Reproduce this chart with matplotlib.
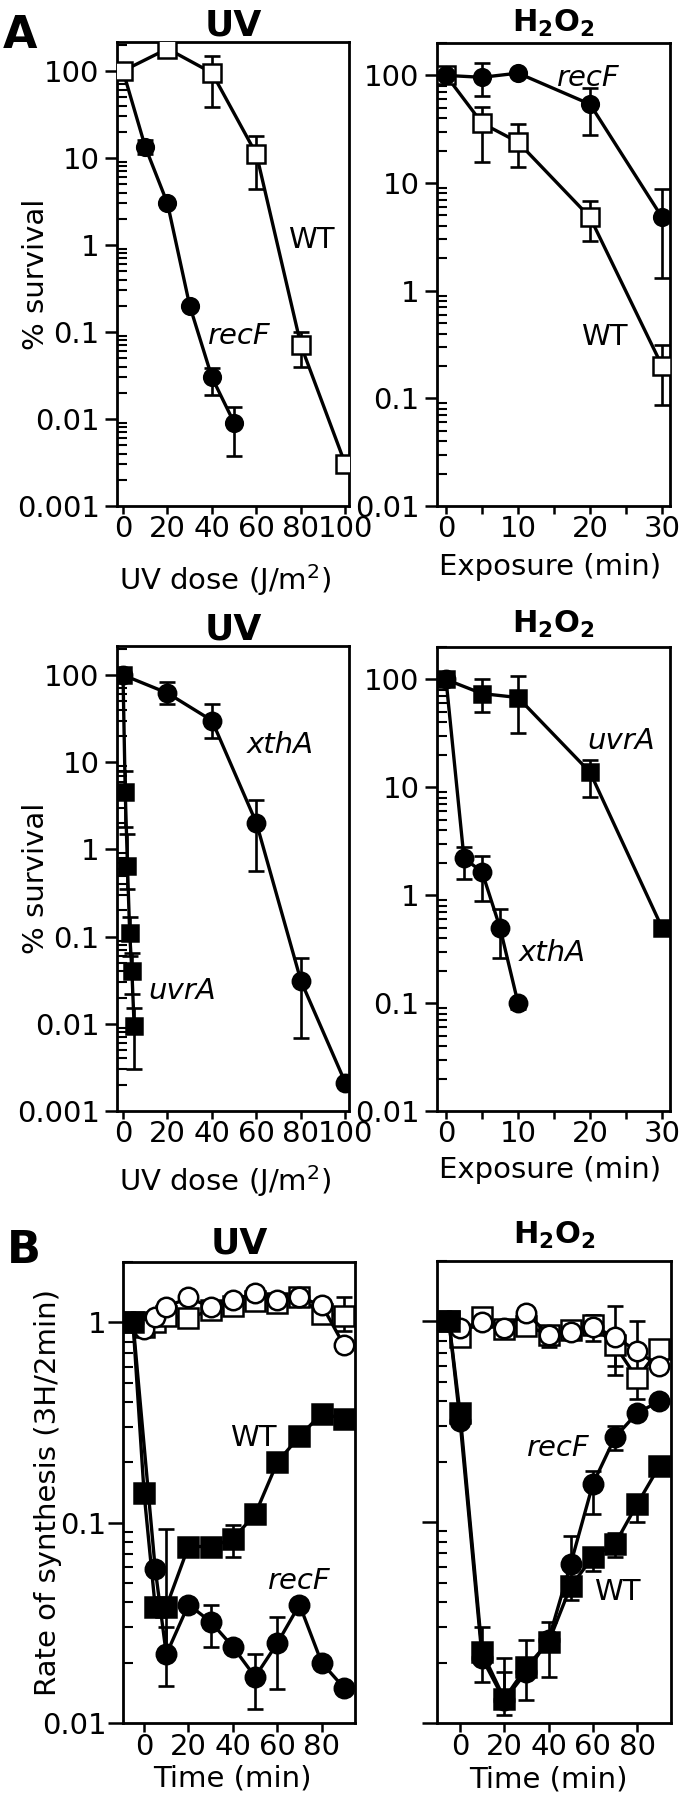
import numpy as np
import matplotlib
matplotlib.use('Agg')
import matplotlib.pyplot as plt
from matplotlib.ticker import LogLocator, NullFormatter

plt.rcParams['font.family'] = ['DejaVu Sans']
plt.rcParams['mathtext.fontset'] = 'dejavusans'

nan = np.nan

# ---- Panel A, UV survival (WT vs recF) ----
uv_dose_wt = [0, 20, 40, 60, 80, 100]
uv_wt = [100, 180, 95, 11, 0.07, 0.003]
uv_wt_lo = [nan, nan, 38, 4.4, 0.04, 0.0025]
uv_wt_hi = [nan, nan, 150, 18, 0.1, nan]

uv_dose_recf = [0, 10, 20, 30, 40, 50]
uv_recf = [100, 13.4, 3.0, 0.2, 0.03, 0.009]
uv_recf_lo = [nan, 11, nan, nan, 0.019, 0.0038]
uv_recf_hi = [nan, 16, nan, nan, 0.039, 0.0137]

# ---- Panel A, H2O2 survival (WT vs recF) ----
h2o2_time = [0, 5, 10, 20, 30]
h2o2_wt = [100, 36, 24, 4.8, 0.2]
h2o2_wt_lo = [nan, 15.8, 14, 2.9, 0.086]
h2o2_wt_hi = [nan, 51, 35, 6.8, 0.31]
h2o2_recf = [100, 96, 105, 54, 4.8]
h2o2_recf_lo = [nan, 64, nan, 28, 1.3]
h2o2_recf_hi = [nan, 131, nan, 77, 8.8]

# ---- Panel A, UV survival (xthA vs uvrA) ----
uv_dose_xtha = [0, 20, 40, 60, 80, 100]
uv_xtha = [100, 62, 30, 2.0, 0.031, 0.0021]
uv_xtha_lo = [nan, 47, 19, 0.57, 0.0069, nan]
uv_xtha_hi = [nan, 83, 46, 3.7, 0.057, nan]

uv_dose_uvra = [0, 1, 2, 3, 4, 5]
uv_uvra = [100, 4.6, 0.65, 0.11, 0.04, 0.0095]
uv_uvra_lo = [nan, 1.8, 0.35, 0.06, 0.022, 0.003]
uv_uvra_hi = [nan, 8, 1.5, 0.17, 0.065, 0.015]

# ---- Panel A, H2O2 survival (uvrA vs xthA) ----
h2o2_time_uvra = [0, 5, 10, 20, 30]
h2o2_uvra = [100, 74, 68, 13.8, 0.5]
h2o2_uvra_lo = [nan, 50, 32, 8.2, nan]
h2o2_uvra_hi = [nan, 100, 107, 17.8, nan]

h2o2_time_xtha = [0, 2.5, 5, 7.5, 10]
h2o2_xtha = [100, 2.2, 1.65, 0.5, 0.1]
h2o2_xtha_lo = [nan, 1.4, 0.88, 0.26, 0.088]
h2o2_xtha_hi = [nan, 2.8, 2.3, 0.75, nan]

# ---- Panel B, UV synthesis rate ----
b_uv_time = [-5, 0, 5, 10, 20, 30, 40, 50, 60, 70, 80, 90]
b_uv_wt = [1.0, 0.14, 0.038, 0.038, 0.076, 0.076, 0.083, 0.11, 0.2, 0.27, 0.35, 0.33]
b_uv_wt_lo = [nan, nan, nan, 0.022, nan, nan, 0.067, nan, nan, nan, nan, nan]
b_uv_wt_hi = [nan, nan, nan, 0.093, nan, nan, 0.097, nan, nan, nan, nan, nan]

b_uv_time_recf = [-5, 5, 10, 20, 30, 40, 50, 60, 70, 80, 90]
b_uv_recf = [1.0, 0.059, 0.022, 0.039, 0.032, 0.024, 0.017, 0.025, 0.039, 0.020, 0.015]
b_uv_recf_lo = [nan, nan, 0.0153, nan, 0.024, nan, 0.0117, 0.0147, nan, nan, nan]
b_uv_recf_hi = [nan, nan, 0.03, nan, 0.039, nan, 0.022, 0.034, nan, nan, nan]

b_uv_wt_ctrl = [1.0, 0.95, 1.0, 1.08, 1.05, 1.15, 1.2, 1.28, 1.25, 1.33, 1.1, 1.08]
b_uv_wt_ctrl_lo = [nan] * 11 + [0.9]
b_uv_wt_ctrl_hi = [nan] * 11 + [1.33]
b_uv_recf_ctrl = [1.0, 0.93, 1.06, 1.19, 1.33, 1.19, 1.29, 1.40, 1.29, 1.33, 1.22, 0.77]

# ---- Panel B, H2O2 synthesis rate ----
b_h2o2_time = [-5, 0, 10, 20, 30, 40, 50, 60, 70, 80, 90]
b_h2o2_wt = [1.0, 0.35, 0.0225, 0.0132, 0.019, 0.0253, 0.048, 0.067, 0.078, 0.123, 0.19]
b_h2o2_wt_lo = [nan, nan, 0.016, 0.011, 0.013, 0.017, nan, 0.057, 0.067, 0.1, nan]
b_h2o2_wt_hi = [nan, nan, 0.03, 0.018, 0.026, 0.032, nan, nan, 0.088, nan, nan]
b_h2o2_recf = [1.0, 0.32, 0.021, 0.013, 0.018, 0.026, 0.062, 0.155, 0.265, 0.35, 0.40]
b_h2o2_recf_lo = [nan, nan, nan, 0.0128, nan, nan, 0.041, 0.11, 0.23, nan, nan]
b_h2o2_recf_hi = [nan, nan, nan, 0.021, nan, nan, 0.085, 0.18, 0.30, nan, nan]

b_h2o2_wt_ctrl = [1.0, 0.84, 1.05, 0.92, 0.95, 0.86, 0.91, 0.96, 0.76, 0.52, 0.73]
b_h2o2_wt_ctrl_lo = [nan, nan, nan, nan, nan, nan, nan, 0.8, 0.6, 0.41, nan]
b_h2o2_wt_ctrl_hi = [nan, nan, nan, nan, nan, nan, nan, 1.08, 1.19, 1.0, nan]
b_h2o2_recf_ctrl = [1.0, 0.93, 0.99, 0.93, 1.1, 0.86, 0.89, 0.94, 0.84, 0.71, 0.6]
b_h2o2_recf_ctrl_lo = [nan, nan, nan, nan, nan, 0.75, nan, nan, 0.54, nan, nan]
b_h2o2_recf_ctrl_hi = [nan] * 11

survival_ticks_uv = [0.001, 0.01, 0.1, 1, 10, 100]
survival_labels_uv = ['0.001', '0.01', '0.1', '1', '10', '100']
survival_ticks_h2o2 = [0.01, 0.1, 1, 10, 100]
survival_labels_h2o2 = ['0.01', '0.1', '1', '10', '100']
rate_ticks = [0.01, 0.1, 1]
rate_labels = ['0.01', '0.1', '1']

FS = 21


def series(ax, x, y, lo=None, hi=None, marker='o', filled=True, ms=12, cap=5.5):
    x = np.asarray(x, float)
    y = np.asarray(y, float)
    if lo is not None:
        lo = np.asarray(lo, float)
        hi = np.asarray(hi, float)
        m = ~(np.isnan(lo) & np.isnan(hi))
        lo_f = np.where(np.isnan(lo), y, lo)
        hi_f = np.where(np.isnan(hi), y, hi)
        if m.any():
            ax.errorbar(x[m], y[m], yerr=[y[m] - lo_f[m], hi_f[m] - y[m]],
                        fmt='none', ecolor='black', elinewidth=1.9,
                        capsize=cap, capthick=1.9, zorder=2)
    ax.plot(x, y, '-', color='black', lw=2.4, marker=marker, ms=ms,
            mfc='black' if filled else 'white', mec='black', mew=1.8,
            zorder=3)


def style(ax, xlim, ylim, xticks, yticks, ylabels, ylen=9, ypad=3.5,
          xlen=6, xpad=0.5):
    ax.set_yscale('log')
    ax.set_xlim(*xlim)
    ax.set_ylim(*ylim)
    ax.set_xticks(xticks)
    ax.set_yticks(yticks)
    ax.set_yticklabels(ylabels)
    ax.yaxis.set_minor_locator(LogLocator(base=10, subs=np.arange(2, 10)))
    ax.yaxis.set_minor_formatter(NullFormatter())
    for s in ax.spines.values():
        s.set_linewidth(2.0)
    ax.tick_params(axis='y', which='major', direction='out', length=ylen,
                   width=1.8, labelsize=FS, pad=ypad)
    ax.tick_params(axis='y', which='minor', direction='in', length=7.5,
                   width=1.5)
    ax.tick_params(axis='x', which='both', direction='out', length=xlen,
                   width=1.8, labelsize=FS, pad=xpad)


fig = plt.figure(figsize=(6.88, 18.04), dpi=100)
W, H = 688.0, 1804.0


def add_axes(left, top, right, bottom):
    return fig.add_axes([left / W, 1 - bottom / H, (right - left) / W,
                         (bottom - top) / H])


h2o2_title = r'H$_\mathbf{2}$O$_\mathbf{2}$'

# A, top left
ax = add_axes(117, 42, 349, 506)
series(ax, uv_dose_recf, uv_recf, uv_recf_lo, uv_recf_hi, 'o', True, 12)
series(ax, uv_dose_wt, uv_wt, uv_wt_lo, uv_wt_hi, 's', False, 12.5)
style(ax, (-2.7, 101.6), (0.001, 215), [0, 20, 40, 60, 80, 100],
      survival_ticks_uv, survival_labels_uv)
ax.set_title('UV', fontsize=26, fontweight='bold', pad=3)
ax.set_ylabel('% survival', fontsize=FS)
ax.yaxis.set_label_coords(-0.29, 0.5)
ax.set_xlabel('UV dose (J/m$^2$)', fontsize=FS)
ax.xaxis.set_label_coords(0.466, -0.12)
ax.text(74, 1.13, 'WT', fontsize=FS, va='center', ha='left')
ax.text(38, 0.09, 'recF', fontsize=FS, style='italic', va='center', ha='left')

# A, top right
ax = add_axes(437, 43, 670, 506)
series(ax, h2o2_time, h2o2_wt, h2o2_wt_lo, h2o2_wt_hi, 's', False, 12.5)
series(ax, h2o2_time, h2o2_recf, h2o2_recf_lo, h2o2_recf_hi, 'o', True, 12)
style(ax, (-1.25, 31.1), (0.01, 200), [0, 10, 20, 30],
      survival_ticks_h2o2, survival_labels_h2o2)
ax.set_xticks([5, 15, 25], minor=True)
ax.set_title(h2o2_title, fontsize=22, fontweight='bold', pad=8)
ax.set_xlabel('Exposure (min)', fontsize=FS)
ax.xaxis.set_label_coords(0.485, -0.102)
ax.text(15.4, 95, 'recF', fontsize=FS, style='italic', va='center', ha='left')
ax.text(18.8, 0.375, 'WT', fontsize=FS, va='center', ha='left')

# A, bottom left
ax = add_axes(117, 646, 349, 1111)
series(ax, uv_dose_xtha, uv_xtha, uv_xtha_lo, uv_xtha_hi, 'o', True, 12.5)
series(ax, uv_dose_uvra, uv_uvra, uv_uvra_lo, uv_uvra_hi, 's', True, 12)
style(ax, (-2.7, 101.6), (0.001, 215), [0, 20, 40, 60, 80, 100],
      survival_ticks_uv, survival_labels_uv)
ax.set_title('UV', fontsize=26, fontweight='bold', pad=4)
ax.set_ylabel('% survival', fontsize=FS)
ax.yaxis.set_label_coords(-0.29, 0.5)
ax.set_xlabel('UV dose (J/m$^2$)', fontsize=FS)
ax.xaxis.set_label_coords(0.466, -0.113)
ax.text(55.7, 15.7, 'xthA', fontsize=FS, style='italic', va='center', ha='left')
ax.text(11.2, 0.024, 'uvrA', fontsize=FS, style='italic', va='center', ha='left')

# A, bottom right
ax = add_axes(437, 647, 670, 1111)
series(ax, h2o2_time_xtha, h2o2_xtha, h2o2_xtha_lo, h2o2_xtha_hi, 'o', True, 12.5)
series(ax, h2o2_time_uvra, h2o2_uvra, h2o2_uvra_lo, h2o2_uvra_hi, 's', True, 12)
style(ax, (-1.25, 31.1), (0.01, 200), [0, 10, 20, 30],
      survival_ticks_h2o2, survival_labels_h2o2)
ax.set_xticks([5, 15, 25], minor=True)
ax.set_title(h2o2_title, fontsize=22, fontweight='bold', pad=10)
ax.set_xlabel('Exposure (min)', fontsize=FS)
ax.xaxis.set_label_coords(0.485, -0.096)
ax.text(19.6, 27, 'uvrA', fontsize=FS, style='italic', va='center', ha='left')
ax.text(10.1, 0.29, 'xthA', fontsize=FS, style='italic', va='center', ha='left')

# B, UV
ax = add_axes(123, 1262, 355, 1723)
series(ax, b_uv_time, b_uv_wt_ctrl, b_uv_wt_ctrl_lo, b_uv_wt_ctrl_hi, 's', False, 14, 6)
series(ax, b_uv_time, b_uv_recf_ctrl, None, None, 'o', False, 14)
series(ax, b_uv_time_recf, b_uv_recf, b_uv_recf_lo, b_uv_recf_hi, 'o', True, 14, 6)
series(ax, b_uv_time, b_uv_wt, b_uv_wt_lo, b_uv_wt_hi, 's', True, 14, 6)
style(ax, (-9.5, 95), (0.01, 2.0), [0, 20, 40, 60, 80], rate_ticks,
      rate_labels, ylen=11, ypad=1, xlen=6.5, xpad=1)
ax.set_title('UV', fontsize=26, fontweight='bold', pad=6)
ax.set_ylabel('Rate of synthesis (3H/2min)', fontsize=FS)
ax.yaxis.set_label_coords(-0.265, 0.5)
ax.set_xlabel('Time (min)', fontsize=FS)
ax.xaxis.set_label_coords(0.47, -0.09)
ax.text(38.7, 0.266, 'WT', fontsize=FS, va='center', ha='left')
ax.text(55.7, 0.051, 'recF', fontsize=FS, style='italic', va='center', ha='left')

# B, H2O2
ax = add_axes(437, 1261, 671, 1723)
series(ax, b_h2o2_time, b_h2o2_wt_ctrl, b_h2o2_wt_ctrl_lo, b_h2o2_wt_ctrl_hi, 's', False, 14, 6)
series(ax, b_h2o2_time, b_h2o2_recf_ctrl, b_h2o2_recf_ctrl_lo, b_h2o2_recf_ctrl_hi, 'o', False, 14, 6)
series(ax, b_h2o2_time, b_h2o2_recf, b_h2o2_recf_lo, b_h2o2_recf_hi, 'o', True, 14, 6)
series(ax, b_h2o2_time, b_h2o2_wt, b_h2o2_wt_lo, b_h2o2_wt_hi, 's', True, 14, 6)
style(ax, (-10.4, 95.3), (0.01, 2.0), [0, 20, 40, 60, 80], rate_ticks,
      ['', '', ''], ylen=11, ypad=1, xlen=6.5, xpad=1)
ax.set_title(h2o2_title, fontsize=22, fontweight='bold', pad=12)
ax.set_xlabel('Time (min)', fontsize=FS)
ax.xaxis.set_label_coords(0.474, -0.093)
ax.text(30.2, 0.233, 'recF', fontsize=FS, style='italic', va='center', ha='left')
ax.text(60.5, 0.045, 'WT', fontsize=FS, va='center', ha='left')

# panel letters
fig.text(3 / W, 1 - 48 / H, 'A', fontsize=32, fontweight='bold', va='baseline')
fig.text(7 / W, 1 - 1263 / H, 'B', fontsize=32, fontweight='bold', va='baseline')

fig.savefig('out.png', dpi=100)
